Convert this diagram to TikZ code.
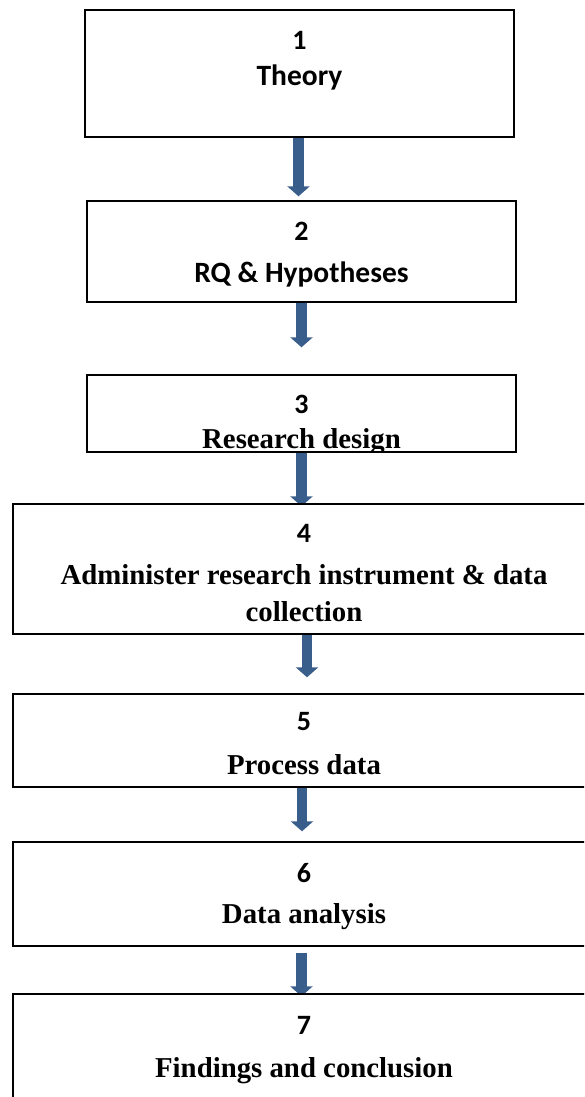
\documentclass[tikz,border=0pt]{standalone}
\usepackage{fontspec}
\setmainfont{Liberation Serif}
\newfontfamily\calib{Carlito}
\usetikzlibrary{arrows.meta}
\definecolor{flowblue}{RGB}{58,94,140}
\tikzset{
  stepbox/.style={draw=black, line width=1.4pt, rectangle, inner sep=0pt, fill=white},
  numtext/.style={anchor=base, inner sep=0pt, font=\calib\bfseries\fontsize{28}{32}\selectfont},
  sanstitle/.style={anchor=base, inner sep=0pt, font=\calib\bfseries\fontsize{29.5}{34}\selectfont},
  seriftitle/.style={anchor=base, inner sep=0pt, font=\bfseries\fontsize{28.8}{33}\selectfont},
  flowarrow/.style={draw=flowblue, line width=10.5pt,
    -{Triangle[width=22pt,length=10pt]}}
}
\begin{document}
\begin{tikzpicture}[x=1pt,y=-1pt]
\useasboundingbox (0,0) rectangle (584,1097);
\clip (0,0) rectangle (584,1097);

% boxes
\node[stepbox, minimum width=429pt, minimum height=127pt] (b1) at (299.5,73.5) {};
\node[stepbox, minimum width=429pt, minimum height=101pt] (b2) at (301.5,251.5) {};
\node[stepbox, minimum width=429pt, minimum height=77pt] (b3) at (301.5,413.5) {};
\node[stepbox, minimum width=582pt, minimum height=130pt] (b4) at (304,569) {};
\node[stepbox, minimum width=582pt, minimum height=93pt] (b5) at (304,740.5) {};
\node[stepbox, minimum width=582pt, minimum height=104pt] (b6) at (304,894) {};
\node[stepbox, minimum width=582pt, minimum height=140pt] (b7) at (304,1064) {};

% labels
\node[numtext] (n1) at (299.5,50) {1};
\node[sanstitle] (t1) at (299.5,86) {Theory};
\node[numtext] (n2) at (301.5,240) {2};
\node[sanstitle] (t2) at (301.5,282) {RQ \& Hypotheses};
\node[numtext] (n3) at (301.5,413) {3};
\begin{scope}
  \clip (b3.north west) rectangle (b3.south east);
  \node[seriftitle] (t3) at (301.5,448) {Research design};
\end{scope}
\draw[line width=1.4pt] (b3.south west) -- (b3.south east);
\node[numtext] (n4) at (304,542) {4};
\node[seriftitle] (t4a) at (304,584) {Administer research instrument \& data};
\node[seriftitle] (t4b) at (304,621) {collection};
\node[numtext] (n5) at (304,730) {5};
\node[seriftitle] (t5) at (304,774) {Process data};
\node[numtext] (n6) at (304,882) {6};
\node[seriftitle] (t6) at (304,923) {Data analysis};
\node[numtext] (n7) at (304,1034) {7};
\node[seriftitle] (t7) at (304,1077) {Findings and conclusion};

% connectors
\draw[flowarrow, shorten >=4pt] ([xshift=-1pt]b1.south) -- ([xshift=-1pt]b1.south |- b2.north);
\draw[flowarrow, shorten >=27pt] (b2.south) -- (b2.south |- b3.north);
\begin{scope}
  \clip (b3.south west) rectangle (b4.north east);
  \draw[flowarrow, shorten >=-3pt] (b3.south) -- (b3.south |- b4.north);
\end{scope}
\draw[line width=1.4pt] (b4.north west) -- (b4.north east);
\draw[flowarrow, shorten >=16pt] ([xshift=3pt]b4.south) -- ([xshift=3pt]b4.south |- b5.north);
\draw[flowarrow, shorten >=10pt] ([xshift=-2pt]b5.south) -- ([xshift=-2pt]b5.south |- b6.north);
\begin{scope}
  \clip (b6.south west) rectangle (b7.north east);
  \draw[flowarrow, shorten <=6pt, shorten >=-3pt] ([xshift=-2.5pt]b6.south) -- ([xshift=-2.5pt]b6.south |- b7.north);
\end{scope}
\draw[line width=1.4pt] (b7.north west) -- (b7.north east);
\end{tikzpicture}
\end{document}
